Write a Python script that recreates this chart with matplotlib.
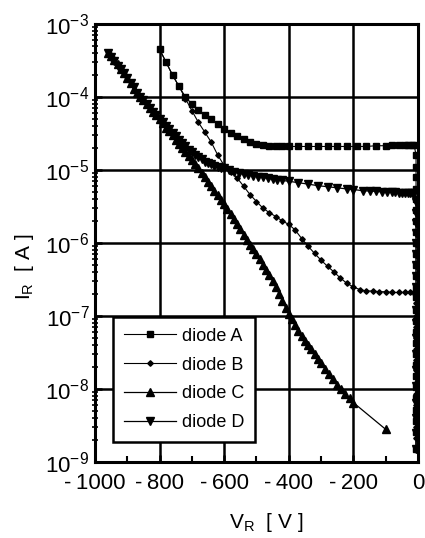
import matplotlib
matplotlib.use("Agg")
import matplotlib.pyplot as plt
from matplotlib.ticker import LogLocator, NullFormatter

plt.rcParams['font.family'] = ['Liberation Sans', 'DejaVu Sans']
plt.rcParams['mathtext.fontset'] = 'custom'
plt.rcParams['mathtext.rm'] = 'Liberation Sans'
plt.rcParams['mathtext.it'] = 'Liberation Sans'

# reverse voltage sweeps [V] and leakage currents [A]
a_v = [-800, -780, -760, -740, -720, -700, -680, -660, -640, -620, -600, -580, -560,
       -540, -520, -500, -480, -460, -440, -420, -400, -370, -340, -310, -280, -250,
       -220, -190, -160, -130, -100, -80, -60, -40, -30, -20, -12,
       -6, -6, -6, -6, -6, -6, -6, -6, -6, -6, -6, -6, -6, -6, -6, -6, -6, -6, -6,
       -6, -6, -6, -6, -6, -6, -6, -6]
a_i = [4.5e-4, 3.0e-4, 2.0e-4, 1.4e-4, 1.0e-4, 8.0e-5, 6.6e-5, 5.7e-5, 5.0e-5, 4.3e-5,
       3.7e-5, 3.2e-5, 2.9e-5, 2.65e-5, 2.45e-5, 2.3e-5, 2.2e-5, 2.15e-5, 2.1e-5, 2.1e-5,
       2.1e-5, 2.1e-5, 2.1e-5, 2.1e-5, 2.1e-5, 2.1e-5, 2.1e-5, 2.1e-5, 2.1e-5, 2.15e-5,
       2.15e-5, 2.2e-5, 2.2e-5, 2.2e-5, 2.2e-5, 2.2e-5, 2.2e-5,
       1.6e-5, 1.1e-5, 8e-6, 5.5e-6, 4e-6, 2.8e-6, 2e-6, 1.4e-6, 1e-6, 7e-7, 5e-7,
       3.5e-7, 2.5e-7, 1.8e-7, 1.2e-7, 8.5e-8, 6e-8, 4.2e-8, 3e-8, 2.1e-8, 1.5e-8,
       1.05e-8, 7.5e-9, 5.2e-9, 3.7e-9, 2.6e-9, 1.5e-9]

b_v = [-800, -780, -760, -740, -720, -700, -680, -660, -640, -620, -600, -580, -560,
       -540, -520, -500, -480, -460, -440, -420, -400, -380, -360, -340, -320, -300,
       -280, -260, -240, -220, -200, -180, -160, -140, -120, -100, -80, -60, -40, -25, -12,
       -6, -6, -6, -6, -6, -6, -6, -6, -6, -6, -6, -6, -6, -6]
b_i = [4.5e-4, 3.0e-4, 2.0e-4, 1.4e-4, 9.5e-5, 6.5e-5, 4.5e-5, 3.3e-5, 2.4e-5, 1.6e-5,
       1.15e-5, 9.5e-6, 7.8e-6, 6.0e-6, 4.6e-6, 3.7e-6, 3.0e-6, 2.6e-6, 2.3e-6, 2.0e-6,
       1.8e-6, 1.5e-6, 1.15e-6, 9.0e-7, 7.2e-7, 5.8e-7, 4.8e-7, 4.0e-7, 3.3e-7, 2.8e-7,
       2.5e-7, 2.3e-7, 2.2e-7, 2.2e-7, 2.15e-7, 2.15e-7, 2.1e-7, 2.1e-7, 2.1e-7, 2.1e-7, 2.1e-7,
       1.5e-7, 1e-7, 7e-8, 5e-8, 3.5e-8, 2.5e-8, 1.8e-8, 1.2e-8, 8.5e-9, 6e-9, 4.2e-9,
       3e-9, 2.1e-9, 1.5e-9]

c_v = [-960, -950, -940, -930, -920, -910, -900, -890, -880, -870, -860, -850, -840,
       -830, -820, -810, -800, -790, -780, -770, -760, -750, -740, -730, -720, -710,
       -700, -690, -680, -670, -660, -650, -640, -630, -620, -610, -600, -590, -580,
       -570, -560, -550, -540, -530, -520, -510, -500, -490, -480, -470, -460, -450,
       -440, -430, -420, -410, -400, -390, -380, -370, -360, -350, -340, -330, -320,
       -310, -300, -287, -275, -262, -250, -237, -225, -212, -200, -100]
c_i = [4.0e-4, 3.6e-4, 3.2e-4, 2.8e-4, 2.4e-4, 2.1e-4, 1.8e-4, 1.55e-4, 1.3e-4, 1.15e-4,
       1.0e-4, 9.0e-5, 8.0e-5, 7.1e-5, 6.3e-5, 5.6e-5, 5.0e-5, 4.35e-5, 3.8e-5, 3.4e-5,
       3.0e-5, 2.6e-5, 2.3e-5, 2.0e-5, 1.75e-5, 1.55e-5, 1.35e-5, 1.2e-5, 1.05e-5, 9.2e-6,
       8.0e-6, 6.9e-6, 6.0e-6, 5.2e-6, 4.5e-6, 3.9e-6, 3.4e-6, 2.9e-6, 2.5e-6, 2.1e-6,
       1.8e-6, 1.55e-6, 1.3e-6, 1.1e-6, 9.5e-7, 8.2e-7, 7.0e-7, 6.0e-7, 5.0e-7, 4.2e-7,
       3.6e-7, 3.0e-7, 2.5e-7, 2.0e-7, 1.6e-7, 1.3e-7, 1.05e-7, 9.0e-8, 7.5e-8, 6.3e-8,
       5.4e-8, 4.6e-8, 4.0e-8, 3.5e-8, 3.0e-8, 2.6e-8, 2.3e-8, 1.9e-8, 1.6e-8, 1.35e-8,
       1.15e-8, 1.0e-8, 8.5e-9, 7.5e-9, 6.5e-9, 2.8e-9]

d_v = [-960, -950, -940, -930, -920, -910, -900, -890, -880, -870, -860, -850, -840,
       -830, -820, -810, -800, -790, -780, -770, -760, -750, -740, -730, -720, -710,
       -700, -690, -680, -670, -660, -650, -640, -630, -620, -610, -600, -585, -570,
       -555, -540, -525, -510, -495, -480, -465, -450, -435, -420, -400,
       -370, -340, -310, -280, -250, -220, -200, -170, -150, -130, -110, -95, -80, -70,
       -60, -50, -40, -32, -25, -18, -12,
       -6, -6, -6, -6, -6, -6, -6, -6, -6, -6, -6, -6, -6, -6, -6, -6, -6, -6, -6, -6]
d_i = [4.0e-4, 3.5e-4, 3.1e-4, 2.7e-4, 2.4e-4, 2.1e-4, 1.8e-4, 1.55e-4, 1.35e-4, 1.15e-4,
       1.0e-4, 9.0e-5, 8.0e-5, 7.1e-5, 6.3e-5, 5.6e-5, 5.0e-5, 4.5e-5, 4.0e-5, 3.6e-5,
       3.2e-5, 2.9e-5, 2.6e-5, 2.35e-5, 2.1e-5, 1.9e-5, 1.75e-5, 1.6e-5, 1.5e-5, 1.4e-5,
       1.3e-5, 1.25e-5, 1.2e-5, 1.15e-5, 1.1e-5, 1.07e-5, 1.05e-5, 1.0e-5, 9.5e-6,
       9.1e-6, 8.8e-6, 8.5e-6, 8.3e-6, 8.1e-6, 7.9e-6, 7.7e-6, 7.5e-6, 7.3e-6, 7.2e-6, 7.0e-6,
       6.7e-6, 6.4e-6, 6.1e-6, 5.9e-6, 5.7e-6, 5.5e-6, 5.4e-6, 5.2e-6, 5.15e-6, 5.1e-6,
       5.0e-6, 5.0e-6, 5.0e-6, 4.95e-6, 4.9e-6, 4.9e-6, 4.9e-6, 4.9e-6, 4.9e-6, 4.9e-6, 4.9e-6,
       3.6e-6, 2.6e-6, 1.9e-6, 1.35e-6, 1e-6, 7e-7, 5e-7, 3.5e-7, 2.5e-7, 1.8e-7, 1.2e-7,
       8e-8, 5e-8, 3e-8, 1.8e-8, 1.1e-8, 6.5e-9, 4e-9, 2.5e-9, 1.5e-9]

x_ticks = [-1000, -800, -600, -400, -200, 0]
x_labels = ["-\u20091000", "-\u2009800", "-\u2009600", "-\u2009400", "-\u2009200", "0"]
y_exps = [-3, -4, -5, -6, -7, -8, -9]

fig = plt.figure(figsize=(4.25, 5.38), dpi=100)
ax = fig.add_axes([0.2235, 0.1413, 0.76, 0.8141])

ax.plot(a_v, a_i, color="black", lw=0.8, marker="s", ms=3.8, label="diode A")
ax.plot(b_v, b_i, color="black", lw=0.8, marker="D", ms=2.8, label="diode B")
ax.plot(c_v, c_i, color="black", lw=0.9, marker="^", ms=5.5, label="diode C")
ax.plot(d_v, d_i, color="black", lw=0.9, marker="v", ms=5.5, label="diode D")

ax.set_yscale("log")
ax.set_xlim(-1000, 0)
ax.set_ylim(1e-9, 1e-3)

ax.set_xticks(x_ticks)
ax.set_xticklabels(x_labels, fontsize=16)
ax.set_xticks([-900, -700, -500, -300, -100], minor=True)
ax.set_yticks([10.0 ** e for e in y_exps])
ax.set_yticklabels([r"10$^{%d}$" % e for e in y_exps], fontsize=16)
ax.yaxis.set_minor_locator(LogLocator(base=10, subs=range(2, 10), numticks=20))
ax.yaxis.set_minor_formatter(NullFormatter())

ax.tick_params(axis="both", which="major", direction="in", length=5, width=1.8)
ax.tick_params(axis="x", which="major", pad=8)
ax.tick_params(axis="y", which="major", pad=4)
ax.tick_params(axis="y", which="minor", direction="inout", length=4, width=1.2)
ax.tick_params(axis="x", which="minor", direction="in", length=4, width=1.5)

ax.grid(True, which="major", color="black", lw=1.8)
for s in ax.spines.values():
    s.set_linewidth(2.2)

leg = ax.legend(loc="lower left", bbox_to_anchor=(0.056, 0.046), borderaxespad=0,
                fontsize=13, handlelength=2.9, handletextpad=0.3, labelspacing=0.65,
                borderpad=0.6, fancybox=False, framealpha=1, edgecolor="black")
leg.get_frame().set_linewidth(1.8)

fig.text(25 / 425, 1 - 267 / 538, r"I$_\mathregular{R}$  [ A ]", rotation=90,
         fontsize=15, ha="center", va="center")
fig.text(266 / 425, 1 - 522 / 538, r"V$_\mathregular{R}$  [ V ]",
         fontsize=15, ha="center", va="center")

fig.savefig("out.png", dpi=100)
